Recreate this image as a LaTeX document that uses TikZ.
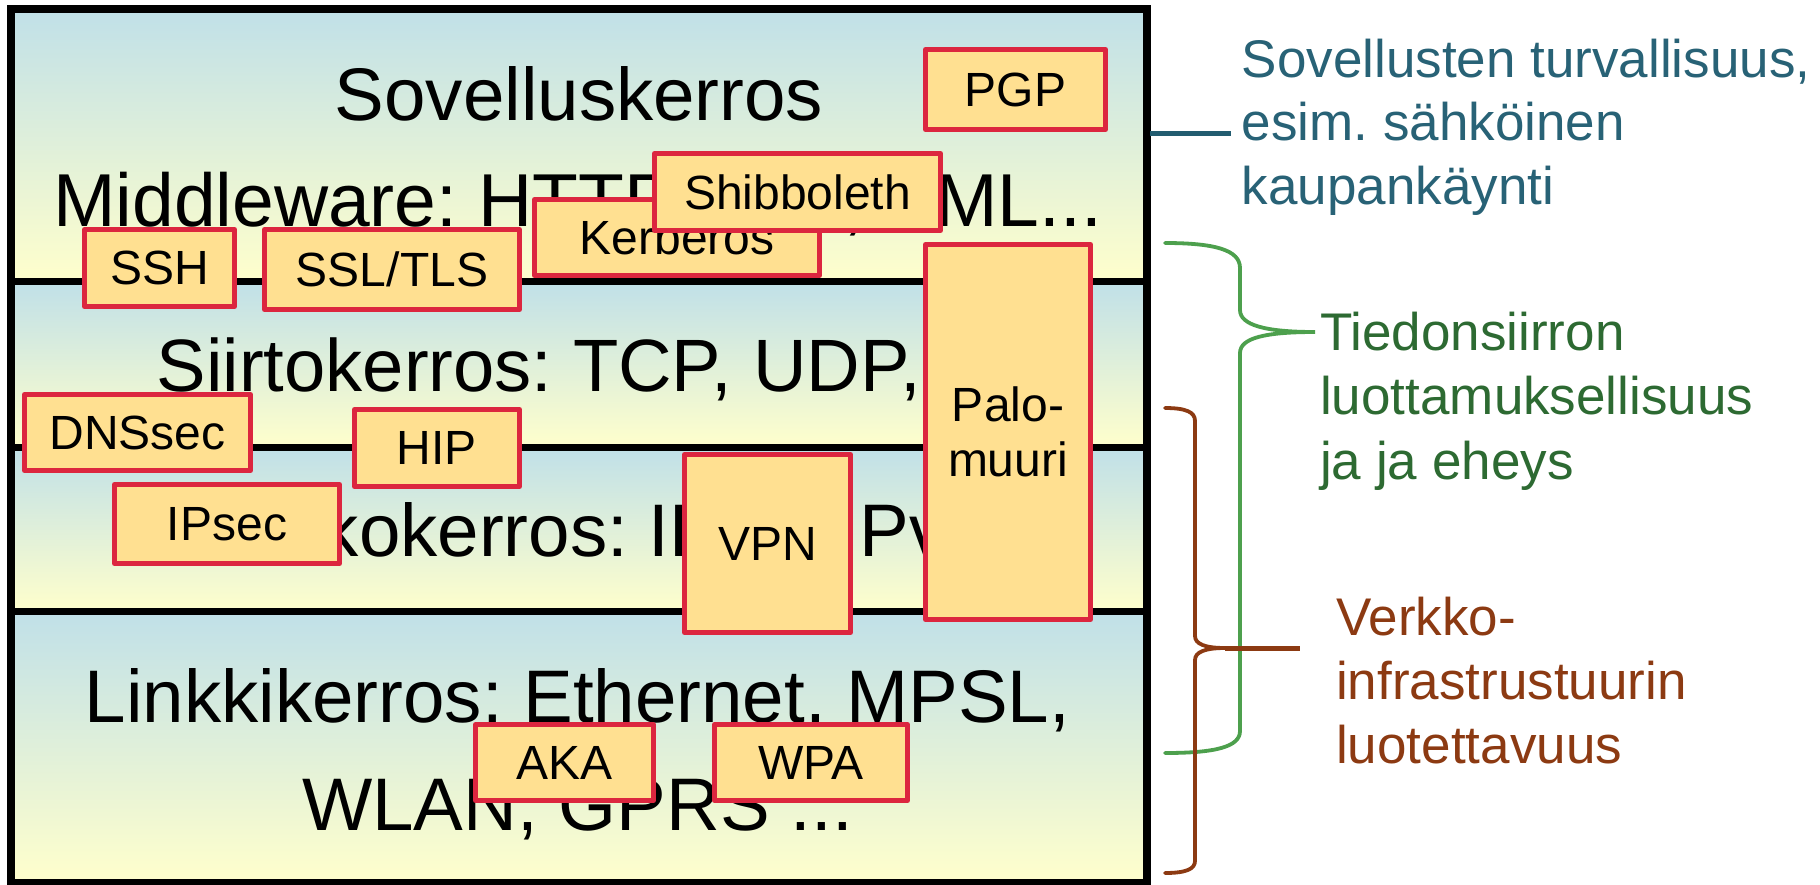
\documentclass[tikz,border=0pt]{standalone}
\usepackage{fontspec}
\setmainfont{Liberation Sans}
\frenchspacing
\definecolor{lblue}{RGB}{192,224,232}
\definecolor{lyel}{RGB}{255,255,204}
\definecolor{boxfill}{RGB}{255,224,145}
\definecolor{boxred}{RGB}{220,38,63}
\definecolor{tealtxt}{RGB}{40,98,118}
\definecolor{tealline}{RGB}{34,92,112}
\definecolor{greentxt}{RGB}{45,106,50}
\definecolor{greenline}{RGB}{77,160,77}
\definecolor{browntxt}{RGB}{140,58,18}
\begin{document}
\begin{tikzpicture}[x=1pt,y=-1pt,
  layerbg/.style={top color=lblue, bottom color=lyel, draw=none},
  layertext/.style={inner sep=0pt, font=\fontsize{74.5}{89}\selectfont},
  tbox/.style={draw=boxred, fill=boxfill, line width=5pt, line join=round, inner sep=0pt,
               font=\fontsize{48}{55}\selectfont, align=center},
  sidetext/.style={anchor=base west, inner sep=0pt},
  bracegreen/.style={draw=greenline, line width=3.8pt, line cap=round},
  bracebrown/.style={draw=browntxt, line width=3.8pt, line cap=round},
]
\useasboundingbox (0,0) rectangle (1820,884);
\fill[white] (0,0) rectangle (1820,884);

% layer backgrounds
\shade[layerbg] (10.7,8.85) rectangle (1147.2,281.7);
\shade[layerbg] (10.7,281.7) rectangle (1147.2,447);
\shade[layerbg] (10.7,447) rectangle (1147.2,611.7);
\shade[layerbg] (10.7,611.7) rectangle (1147.2,882.5);

% layer texts
\node[layertext, anchor=base] (sov) at (579,120.5) {Sovelluskerros};
\node[layertext, anchor=base west, font=\fontsize{75}{89}\selectfont] (mid) at (53,226.7) {Middleware: HTTP, RMI, XML...};
\node[layertext, anchor=base west, font=\fontsize{74.2}{88}\selectfont] (siirto) at (156.5,391.5) {Siirtokerros: TCP, UDP, ...};
\node[layertext, anchor=base west] (verkko) at (172.5,556.5) {Verkkokerros: IPv4, IPv6};
\node[layertext, anchor=base] (link1) at (577.5,722.5) {Linkkikerros: Ethernet, MPSL,};
\node[layertext, anchor=base] (link2) at (577.5,830) {WLAN, GPRS ...};

% frame and dividers
\draw[line width=7.6pt] (10.7,8.85) rectangle (1147.2,882.5);
\draw[line width=7pt] (10.7,281.7) -- (1147.2,281.7);
\draw[line width=7pt] (10.7,447) -- (1147.2,447);
\draw[line width=7pt] (10.7,611.7) -- (1147.2,611.7);

% security boxes
\node[tbox, minimum width=150pt, minimum height=77pt] (ssh) at (159.5,268) {SSH};
\node[tbox, minimum width=255pt, minimum height=80pt] (ssl) at (392,269.5) {SSL/TLS};
\node[tbox, minimum width=285pt, minimum height=76pt] (kerb) at (677,237.5) {Kerberos};
\node[tbox, minimum width=286pt, minimum height=77pt] (shib) at (797.5,192) {Shibboleth};
\node[tbox, minimum width=180pt, minimum height=80pt] (pgp) at (1015.5,89.5) {PGP};
\node[tbox, minimum width=165pt, minimum height=375pt] (palo) at (1008,432) {Palo-\\muuri};
\node[tbox, minimum width=226pt, minimum height=76pt] (dns) at (137.5,432.5) {DNSsec};
\node[tbox, minimum width=165pt, minimum height=77pt] (hip) at (437,448) {HIP};
\node[tbox, minimum width=225pt, minimum height=79pt] (ipsec) at (227,524) {IPsec};
\node[tbox, minimum width=166pt, minimum height=178pt] (vpn) at (767.5,543.5) {VPN};
\node[tbox, minimum width=178pt, minimum height=76pt] (aka) at (564.5,762.5) {AKA};
\node[tbox, minimum width=193pt, minimum height=76pt] (wpa) at (811,762.5) {WPA};

% right side: application security
\coordinate (tealA) at (1150,133);
\coordinate (tealB) at (1231,133);
\draw[draw=tealline, line width=5pt] (tealA) -- (tealB);
\node[sidetext, text=tealtxt, font=\fontsize{53}{63.5}\selectfont] (teal) at (1241.6,77.3)
  {\vtop{\hbox{Sovellusten turvallisuus,}\hbox{esim. sähköinen}\hbox{kaupankäynti}}};

% green brace
\coordinate (gTop) at (1165,243);
\coordinate (gTip) at (1315,332);
\coordinate (gBot) at (1165,753);
\draw[bracegreen] (gTop) .. controls (1215,243) and (1240,250) .. (1240,268)
  -- (1240,310) .. controls (1240,325) and (1265,332) .. (gTip)
  .. controls (1265,332) and (1240,338) .. (1240,353)
  -- (1240,731) .. controls (1240,747) and (1215,753) .. (gBot);
\node[sidetext, text=greentxt, font=\fontsize{53}{64.5}\selectfont] (green) at (1320,350)
  {\vtop{\hbox{Tiedonsiirron}\hbox{luottamuksellisuus}\hbox{ja ja eheys}}};

% brown brace
\coordinate (bTop) at (1165,408);
\coordinate (bTip) at (1225,648);
\coordinate (bBot) at (1165,873);
\coordinate (bEnd) at (1300,648);
\draw[bracebrown] (bTop) .. controls (1186,408) and (1195,412) .. (1195,421)
  -- (1195,636) .. controls (1195,644) and (1205,648) .. (bTip)
  .. controls (1205,648) and (1195,652) .. (1195,660)
  -- (1195,861) .. controls (1195,869) and (1186,873) .. (bBot);
\draw[draw=browntxt, line width=5pt] (bTip) -- (bEnd);
\node[sidetext, text=browntxt, font=\fontsize{53}{64}\selectfont] (brown) at (1336,635)
  {\vtop{\hbox{Verkko-}\hbox{infrastrustuurin}\hbox{luotettavuus}}};
\end{tikzpicture}
\end{document}
